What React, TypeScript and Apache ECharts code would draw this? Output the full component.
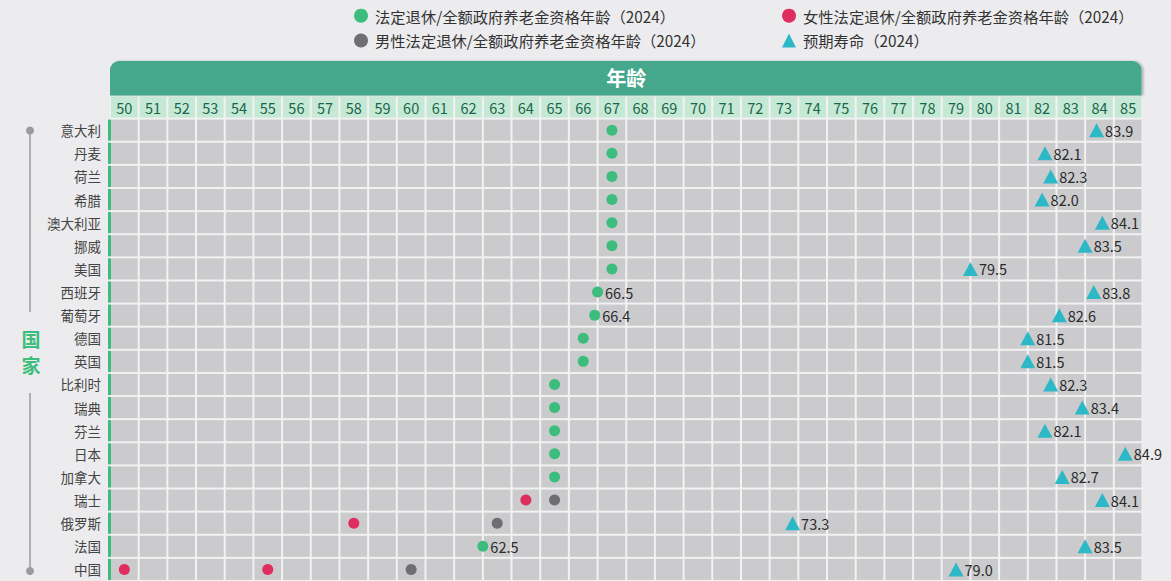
import React, { useEffect, useRef } from "react";
import * as echarts from "echarts";

const ages = [50, 51, 52, 53, 54, 55, 56, 57, 58, 59, 60, 61, 62, 63, 64, 65, 66, 67, 68, 69, 70, 71, 72, 73, 74, 75, 76, 77, 78, 79, 80, 81, 82, 83, 84, 85];

const countries = ["意大利", "丹麦", "荷兰", "希腊", "澳大利亚", "挪威", "美国", "西班牙", "葡萄牙", "德国", "英国", "比利时", "瑞典", "芬兰", "日本", "加拿大", "瑞士", "俄罗斯", "法国", "中国"];

// 法定退休/全额政府养老金资格年龄（统一）
const retirementAge: (number | null)[] = [67, 67, 67, 67, 67, 67, 67, 66.5, 66.4, 66, 66, 65, 65, 65, 65, 65, null, null, 62.5, null];

// 女性法定退休年龄
const femaleRetirement: [string, number][] = [
  ["瑞士", 64],
  ["俄罗斯", 58],
  ["中国", 50],
  ["中国", 55],
];

// 男性法定退休年龄
const maleRetirement: [string, number][] = [
  ["瑞士", 65],
  ["俄罗斯", 63],
  ["中国", 60],
];

// 预期寿命（2024）
const lifeExpectancy = [83.9, 82.1, 82.3, 82.0, 84.1, 83.5, 79.5, 83.8, 82.6, 81.5, 81.5, 82.3, 83.4, 82.1, 84.9, 82.7, 84.1, 73.3, 83.5, 79.0];

const NAME_ALL = "法定退休/全额政府养老金资格年龄（2024）";
const NAME_F = "女性法定退休/全额政府养老金资格年龄（2024）";
const NAME_M = "男性法定退休/全额政府养老金资格年龄（2024）";
const NAME_LE = "预期寿命（2024）";

const HEADER = "__header__";

const FONT = "'Noto Sans CJK SC', 'Noto Sans', sans-serif";
const GREEN = "#3dbd7d";
const RED = "#de2d5e";
const GRAY = "#6e6e73";
const CYAN = "#2db8c8";

export default function App() {
  const ref = useRef<HTMLDivElement>(null);

  useEffect(() => {
    document.body.style.margin = "0";
    document.body.style.background = "#ececee";
    const chart = echarts.init(ref.current!, null, { renderer: "svg" });

    const rows = [HEADER, ...countries];
    const gridLeft = 110;
    const gridTop = 95.5;
    const gridWidth = 1032.5;
    const rowH = 23.16;
    const gridHeight = rowH * rows.length;

    const cellData: any[] = [];
    rows.forEach((r, ri) => {
      ages.forEach((a, i) => {
        cellData.push([i, r, a, ri === 0 ? 1 : 0]);
      });
    });

    const renderCell = (_params: any, api: any) => {
      const c = api.coord([api.value(0), api.value(1)]);
      const s = api.size([1, 1]);
      const isHeader = api.value(3) === 1;
      const rect = {
        type: "rect",
        shape: { x: c[0] - s[0] / 2 + 1, y: c[1] - s[1] / 2 + 1, width: s[0] - 2, height: s[1] - 2 },
        style: { fill: isHeader ? "#c6e9d6" : "#cbcbcd" },
      };
      if (!isHeader) return rect;
      return {
        type: "group",
        children: [
          rect,
          {
            type: "text",
            style: {
              text: String(api.value(2)),
              x: c[0],
              y: c[1],
              align: "center",
              verticalAlign: "middle",
              fill: "#17664a",
              fontSize: 14.5,
              fontFamily: FONT,
            },
          },
        ],
      };
    };

    const valueLabel = (p: any) => {
      const v = p.value[0];
      return v % 1 !== 0 ? v.toFixed(1) : "";
    };

    const legendText = { fontSize: 15.3, color: "#333", fontFamily: FONT, padding: [0, 0, 0, 2] };

    const pointLabel = {
      show: true,
      position: "right",
      distance: 2,
      fontSize: 14.5,
      color: "#2a2a2a",
      fontFamily: FONT,
      formatter: valueLabel,
    };

    const option: any = {
      animation: false,
      backgroundColor: "#ececee",
      textStyle: { fontFamily: FONT },
      legend: [
        {
          data: [NAME_ALL, NAME_M],
          left: 354,
          top: 8,
          orient: "vertical",
          itemWidth: 14,
          itemHeight: 14,
          itemGap: 9.5,
          padding: 0,
          selectedMode: false,
          textStyle: legendText,
        },
        {
          data: [NAME_F, NAME_LE],
          left: 782,
          top: 8,
          orient: "vertical",
          itemWidth: 14,
          itemHeight: 14,
          itemGap: 9.5,
          padding: 0,
          selectedMode: false,
          textStyle: legendText,
        },
      ],
      grid: {
        left: gridLeft,
        top: gridTop,
        width: gridWidth,
        height: gridHeight,
        show: true,
        backgroundColor: "#f2f2f3",
        borderWidth: 0,
      },
      xAxis: [
        { type: "category", data: ages.map(String), show: false },
        { type: "value", min: 49.5, max: 85.5, show: false },
      ],
      yAxis: {
        type: "category",
        data: rows,
        inverse: true,
        axisLine: { show: false },
        axisTick: { show: false },
        splitLine: { show: false },
        axisLabel: {
          margin: 9,
          fontSize: 13.5,
          color: "#444",
          fontFamily: FONT,
          formatter: (v: string) => (v === HEADER ? "" : v),
        },
      },
      graphic: [
        {
          type: "rect",
          shape: { x: gridLeft, y: 61, width: gridWidth - 1, height: 34.5, r: [9, 9, 0, 0] },
          style: {
            fill: "#44a78c",
            shadowColor: "rgba(0,0,0,0.25)",
            shadowBlur: 2,
            shadowOffsetX: 2,
            shadowOffsetY: 0,
          },
          silent: true,
        },
        {
          type: "text",
          x: gridLeft + gridWidth / 2,
          y: 77.5,
          style: {
            text: "年龄",
            fill: "#fff",
            fontSize: 20,
            fontWeight: "bold",
            fontFamily: FONT,
            align: "center",
            verticalAlign: "middle",
          },
          silent: true,
        },
        {
          type: "line",
          shape: { x1: 30, y1: 130.5, x2: 30, y2: 312 },
          style: { stroke: "#9b9b9f", lineWidth: 1.5 },
          silent: true,
        },
        {
          type: "line",
          shape: { x1: 30, y1: 393, x2: 30, y2: 571 },
          style: { stroke: "#9b9b9f", lineWidth: 1.5 },
          silent: true,
        },
        { type: "circle", shape: { cx: 30, cy: 130.5, r: 4 }, style: { fill: "#9b9b9f" }, silent: true },
        { type: "circle", shape: { cx: 30, cy: 571, r: 4 }, style: { fill: "#9b9b9f" }, silent: true },
        {
          type: "text",
          x: 31,
          y: 351,
          style: {
            text: "国\n家",
            fill: GREEN,
            fontSize: 19,
            lineHeight: 26,
            fontWeight: "bold",
            fontFamily: FONT,
            align: "center",
            verticalAlign: "middle",
          },
          silent: true,
        },
      ],
      series: [
        {
          type: "custom",
          xAxisIndex: 0,
          data: cellData,
          silent: true,
          renderItem: renderCell,
          encode: { x: 0, y: 1 },
          z: 1,
        },
        {
          type: "scatter",
          xAxisIndex: 1,
          silent: true,
          symbol: "rect",
          symbolSize: [3, rowH - 2],
          symbolOffset: [-0.5, 0],
          itemStyle: { color: GREEN, opacity: 1 },
          data: countries.map((c) => [49.5, c]),
          z: 3,
        },
        {
          name: NAME_ALL,
          type: "scatter",
          xAxisIndex: 1,
          symbol: "circle",
          symbolSize: 11,
          itemStyle: { color: GREEN, opacity: 1 },
          data: countries
            .map((c, i) => (retirementAge[i] == null ? null : [retirementAge[i], c]))
            .filter((d) => d !== null),
          label: pointLabel,
          z: 5,
        },
        {
          name: NAME_F,
          type: "scatter",
          xAxisIndex: 1,
          symbol: "circle",
          symbolSize: 11,
          itemStyle: { color: RED, opacity: 1 },
          data: femaleRetirement.map(([c, v]) => [v, c]),
          label: pointLabel,
          z: 5,
        },
        {
          name: NAME_M,
          type: "scatter",
          xAxisIndex: 1,
          symbol: "circle",
          symbolSize: 11,
          itemStyle: { color: GRAY, opacity: 1 },
          data: maleRetirement.map(([c, v]) => [v, c]),
          label: pointLabel,
          z: 5,
        },
        {
          name: NAME_LE,
          type: "scatter",
          xAxisIndex: 1,
          symbol: "triangle",
          symbolSize: [15, 14],
          itemStyle: { color: CYAN, opacity: 1 },
          data: countries.map((c, i) => [lifeExpectancy[i], c]),
          label: {
            ...pointLabel,
            distance: 1,
            formatter: (p: any) => p.value[0].toFixed(1),
          },
          z: 5,
        },
      ],
    };

    chart.setOption(option);
    return () => chart.dispose();
  }, []);

  return (
    <div
      ref={ref}
      style={{ position: "fixed", left: 0, top: 0, width: 1171, height: 581, background: "#ececee" }}
    />
  );
}
